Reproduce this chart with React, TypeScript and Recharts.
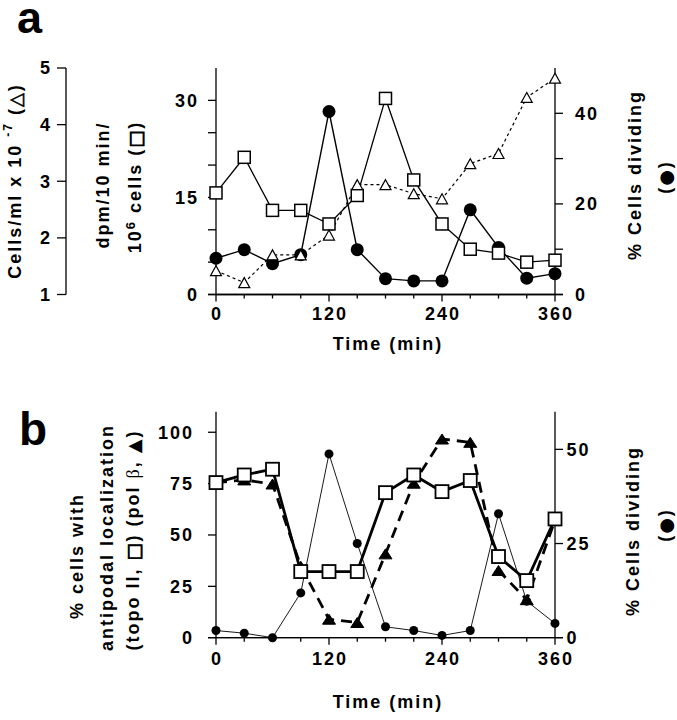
import React from 'react';
import { LineChart, Line, XAxis, YAxis } from 'recharts';

const FONT = "'Liberation Sans', Arial, Helvetica, sans-serif";
const SYM = "'DejaVu Sans', sans-serif";

// ---- shared time axis ----
const times = [0, 30, 60, 90, 120, 150, 180, 210, 240, 270, 300, 330, 360];
const timeLabels = [0, 120, 240, 360];

// ---- panel a ----
const dpmA = [15.7, 21.2, 13.0, 13.0, 10.9, 15.3, 30.3, 17.7, 10.9, 7.0, 6.4, 5.0, 5.3];
const dividingA = [8.0, 9.9, 6.8, 8.8, 40.4, 9.9, 3.5, 3.0, 3.0, 18.7, 10.4, 3.6, 4.6];
const cellsA = [1.42, 1.21, 1.7, 1.7, 2.05, 2.94, 2.94, 2.78, 2.69, 3.31, 3.49, 4.48, 4.82];
const dpmTicks = [0, 5, 10, 15, 20, 25, 30];
const dpmLabels = [0, 15, 30];
const divTicksA = [0, 10, 20, 30, 40];
const divLabelsA = [0, 20, 40];
const cellsTicks = [1, 2, 3, 4, 5];

// ---- panel b ----
const topoB = [75.5, 79.2, 82.0, 32.2, 32.2, 32.2, 70.6, 79.2, 71.1, 76.5, 39.5, 27.8, 57.8];
const polB = [75.5, 76.8, 74.8, 34.8, 9.0, 7.4, 40.8, 75.2, 96.7, 95.1, 32.7, 18.5, 57.2];
const dividingB = [1.9, 1.2, 0, 11.9, 48.8, 25.0, 2.9, 1.9, 0.6, 1.9, 32.9, 9.7, 3.8];
const pctTicksB = [0, 25, 50, 75, 100];
const divTicksB = [0, 25, 50];

const dataA = times.map((t, i) => ({ t, dpm: dpmA[i], div: dividingA[i], cells: cellsA[i] }));
const dataB = times.map((t, i) => ({ t, topo: topoB[i], pol: polB[i], div: dividingB[i] }));

// rotated (bottom-to-top) axis title text
const VText = ({ x, y, children }: any) => (
  <text
    x={x}
    y={y}
    transform={`rotate(-90, ${x}, ${y})`}
    textAnchor="middle"
    dominantBaseline="central"
    fill="#000"
  >
    {children}
  </text>
);

// symbol glyphs inside the titles (outlined a bit so thin shapes stay black)
const Sym = ({ c, sw = 0 }: { c: string; sw?: number }) => (
  <tspan fontFamily={SYM} fontWeight={400} fill="#000" stroke={sw ? '#000' : 'none'} strokeWidth={sw}>{c}</tspan>
);

// ---- markers ----
const squareDot = (size: number, sw: number) => (p: any) => {
  const { cx, cy, index } = p;
  if (cx == null || cy == null) return <g key={`s${index}`} />;
  return (
    <rect key={`s${index}`} x={cx - size / 2} y={cy - size / 2} width={size} height={size}
      fill="#fff" stroke="#000" strokeWidth={sw} />
  );
};

const circleDot = (r: number) => (p: any) => {
  const { cx, cy, index } = p;
  if (cx == null || cy == null) return <g key={`c${index}`} />;
  return <circle key={`c${index}`} cx={cx} cy={cy} r={r} fill="#000" stroke="none" />;
};

const triangleDot = (w: number, h: number, filled: boolean) => (p: any) => {
  const { cx, cy, index } = p;
  if (cx == null || cy == null) return <g key={`t${index}`} />;
  const pts = `${cx},${cy - h / 2} ${cx - w / 2},${cy + h / 2} ${cx + w / 2},${cy + h / 2}`;
  return (
    <polygon key={`t${index}`} points={pts} fill={filled ? '#000' : '#fff'}
      stroke="#000" strokeWidth={filled ? 1 : 1.2} strokeLinejoin="miter" />
  );
};

// x ticks: long tick + label every 120 min, short tick every 30 min
const timeTick = (baseline: number) => (p: any) => {
  const { x, y, payload } = p;
  const major = timeLabels.includes(payload.value);
  return (
    <g>
      <line x1={x} x2={x} y1={y} y2={y + (major ? 7 : 4)} stroke="#000" strokeWidth={1.3} />
      {major && (
        <text x={x + 1} y={y + baseline} textAnchor="middle" fill="#000">{payload.value}</text>
      )}
    </g>
  );
};

// ---- labels (chart-local coordinates) ----
const CellsLabelA = () => (
  <g>
    <text x={17} y={33} fontSize={45} letterSpacing={0} fill="#000">a</text>
    <VText x={15} y={181}>
      Cells/ml x 10 <tspan fontSize={12} dy={-7}>-7</tspan><tspan dy={7}> (</tspan><Sym c="△" sw={0.6} />)
    </VText>
  </g>
);

const DpmLabelA = () => (
  <g>
    <VText x={103} y={185}>dpm/10 min/</VText>
    <VText x={135} y={187}>
      10<tspan fontSize={13} dy={-5}>6</tspan><tspan dy={5}> cells (</tspan><Sym c="□" sw={0.9} />)
    </VText>
  </g>
);

const DivLabelA = () => (
  <g>
    <VText x={635} y={175}>% Cells dividing</VText>
    <VText x={665} y={177}>(<Sym c="●" />)</VText>
  </g>
);

const TimeLabel = ({ axisY, baseline }: { axisY: number; baseline: number }) => (
  <g>
    <line x1={208} x2={563} y1={axisY} y2={axisY} stroke="#000" strokeWidth={1.3} />
    <text x={388} y={baseline} textAnchor="middle" fill="#000">Time (min)</text>
  </g>
);

const PctLabelB = () => (
  <g>
    <text x={19} y={85} fontSize={46} letterSpacing={0} fill="#000">b</text>
    <VText x={77} y={196}>% cells with</VText>
    <VText x={107} y={177.5}>antipodal localization</VText>
    <VText x={133} y={180}>
      (topo II, <Sym c="□" sw={0.9} />) (pol <tspan fontWeight={400} fontFamily="serif">β</tspan>, <Sym c="▲" />)
    </VText>
  </g>
);

const DivLabelB = () => (
  <g>
    <VText x={633} y={171}>% Cells dividing</VText>
    <VText x={665} y={165}>(<Sym c="●" />)</VText>
  </g>
);

const tickStyle = { fill: '#000' };
const axisLine = { stroke: '#000', strokeWidth: 1.3 };

export default function App() {
  return (
    <div
      style={{
        position: 'absolute', left: 0, top: 0, width: 677, height: 720, background: '#fff',
        fontFamily: FONT, fontWeight: 700, fontSize: 18, letterSpacing: 2,
      }}
    >
      {/* panel a */}
      <LineChart width={677} height={360} data={dataA} margin={{ top: 68, right: 0, bottom: 0.5, left: 0 }}>
        <XAxis dataKey="t" type="number" domain={[0, 360]} ticks={times} interval={0}
          stroke="#000" axisLine={axisLine} tickLine={false}
          tickSize={0} tickMargin={0} height={65} tick={timeTick(25.5)}
          label={{ content: () => <TimeLabel axisY={294.5} baseline={350} /> }} />
        <XAxis xAxisId="top" dataKey="t" type="number" domain={[0, 360]} orientation="top"
          height={0} tick={false} tickLine={false} axisLine={axisLine} />
        {/* left axes: "y1dpm" sits next to the plot, "y2cells" outside it */}
        <YAxis yAxisId="y1dpm" orientation="left" width={150} type="number" domain={[0, 35]}
          ticks={dpmTicks} interval={0} tickFormatter={(v: number) => (dpmLabels.includes(v) ? String(v) : '')}
          stroke="#000" axisLine={axisLine} tickLine={axisLine}
          tickSize={8} tickMargin={9} tick={tickStyle} label={{ content: () => <DpmLabelA /> }} />
        <YAxis yAxisId="y2cells" orientation="left" width={66} type="number" domain={[1, 5]}
          ticks={cellsTicks} interval={0}
          stroke="#000" axisLine={axisLine} tickLine={axisLine}
          tickSize={9} tickMargin={5} tick={tickStyle} label={{ content: () => <CellsLabelA /> }} />
        <YAxis yAxisId="y3div" orientation="right" width={122} type="number" domain={[0, 50]}
          ticks={divTicksA} interval={0} tickFormatter={(v: number) => (divLabelsA.includes(v) ? String(v) : '')}
          stroke="#000" axisLine={axisLine} tickLine={axisLine}
          tickSize={8} tickMargin={12} tick={tickStyle} label={{ content: () => <DivLabelA /> }} />
        <Line yAxisId="y3div" dataKey="div" type="linear" stroke="#000" strokeWidth={1.4}
          dot={circleDot(6.5)} activeDot={false} isAnimationActive={false} />
        <Line yAxisId="y1dpm" dataKey="dpm" type="linear" stroke="#000" strokeWidth={1.3}
          dot={squareDot(12, 1.5)} activeDot={false} isAnimationActive={false} />
        <Line yAxisId="y2cells" dataKey="cells" type="linear" stroke="#000" strokeWidth={1.2}
          strokeDasharray="3 3" dot={triangleDot(11, 10, false)} activeDot={false} isAnimationActive={false} />
      </LineChart>

      {/* panel b */}
      <LineChart width={677} height={360} data={dataB} margin={{ top: 51.7, right: 0, bottom: 2.3, left: 0 }}>
        <XAxis dataKey="t" type="number" domain={[0, 360]} ticks={times} interval={0}
          stroke="#000" axisLine={axisLine} tickLine={false}
          tickSize={0} tickMargin={0} height={80} tick={timeTick(27)}
          label={{ content: () => <TimeLabel axisY={277.7} baseline={348} /> }} />
        <XAxis xAxisId="top" dataKey="t" type="number" domain={[0, 360]} orientation="top"
          height={0} tick={false} tickLine={false} axisLine={axisLine} />
        <YAxis yAxisId="pct" orientation="left" width={216} type="number" domain={[0, 110]}
          ticks={pctTicksB} interval={0}
          stroke="#000" axisLine={axisLine} tickLine={axisLine}
          tickSize={8} tickMargin={14} tick={tickStyle} label={{ content: () => <PctLabelB /> }} />
        <YAxis yAxisId="div" orientation="right" width={122} type="number" domain={[0, 60]}
          ticks={divTicksB} interval={0}
          stroke="#000" axisLine={axisLine} tickLine={axisLine}
          tickSize={8} tickMargin={3.5} tick={tickStyle} label={{ content: () => <DivLabelB /> }} />
        <Line yAxisId="div" dataKey="div" type="linear" stroke="#000" strokeWidth={0.9}
          dot={circleDot(4.5)} activeDot={false} isAnimationActive={false} />
        <Line yAxisId="pct" dataKey="pol" type="linear" stroke="#000" strokeWidth={2.8}
          strokeDasharray="11 7" dot={triangleDot(13, 10, true)} activeDot={false} isAnimationActive={false} />
        <Line yAxisId="pct" dataKey="topo" type="linear" stroke="#000" strokeWidth={2.8}
          dot={squareDot(13, 1.8)} activeDot={false} isAnimationActive={false} />
      </LineChart>
    </div>
  );
}
